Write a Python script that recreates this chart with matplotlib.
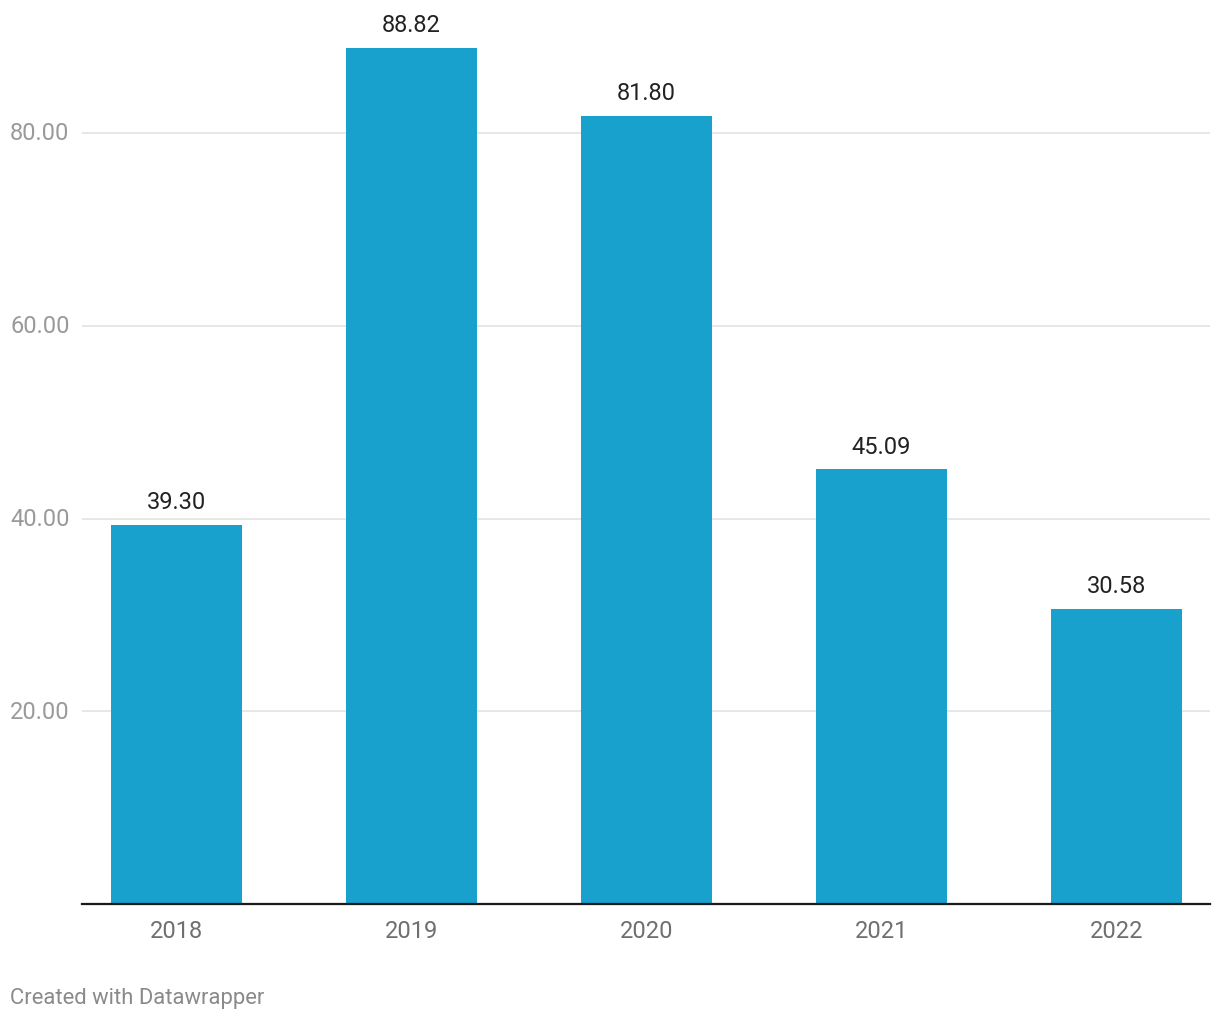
import matplotlib
matplotlib.use("Agg")
import matplotlib.pyplot as plt

years = ["2018", "2019", "2020", "2021", "2022"]
values = [39.30, 88.82, 81.80, 45.09, 30.58]
yticks = [20, 40, 60, 80]
ytick_labels = ["20.00", "40.00", "60.00", "80.00"]

plt.rcParams['font.family'] = ['Roboto', 'DejaVu Sans']

W, H = 1220, 1020
OFF = 2
fig = plt.figure(figsize=(W/100, H/100), dpi=100)
left, right = 82, 1210
bottom, top = 903 + OFF, 20 + OFF
ppu = 9.6375
ax = fig.add_axes([left/W, 1 - bottom/H, (right-left)/W, (bottom-top)/H])

x = list(range(len(years)))
ax.bar(x, values, width=0.557, color="#18a1cd", zorder=3)
ax.set_xlim(-0.402, 4.398)
ax.set_ylim(0, (bottom - top) / ppu)

for xi, v in zip(x, values):
    ax.annotate(f"{v:.2f}", (xi, v), xytext=(0, 8.5), textcoords="offset points",
                ha="center", va="bottom", fontsize=17, color="#222222")

for t in yticks:
    ax.axhline(t, color="#e3e3e3", lw=1.2, zorder=1)

for t, lab in zip(yticks, ytick_labels):
    ypix = bottom - t * ppu
    fig.text(10/W, 1 - ypix/H, lab, ha="left", va="center", fontsize=17, color="#9a9a9a")

ax.set_yticks([])
ax.set_xticks(x)
ax.set_xticklabels(years, fontsize=17, color="#6f6f6f")
ax.tick_params(axis="x", length=0, pad=10.5)
for s in ["top", "right", "left"]:
    ax.spines[s].set_visible(False)
ax.spines["bottom"].set_color("#1a1a1a")
ax.spines["bottom"].set_linewidth(1.6)
ax.spines["bottom"].set_zorder(4)

fig.text(10/W, 1 - (997 + OFF)/H, "Created with Datawrapper", ha="left", va="center",
         fontsize=15.8, color="#8a8a8a")

fig.savefig("out.png", dpi=100, facecolor="white")
